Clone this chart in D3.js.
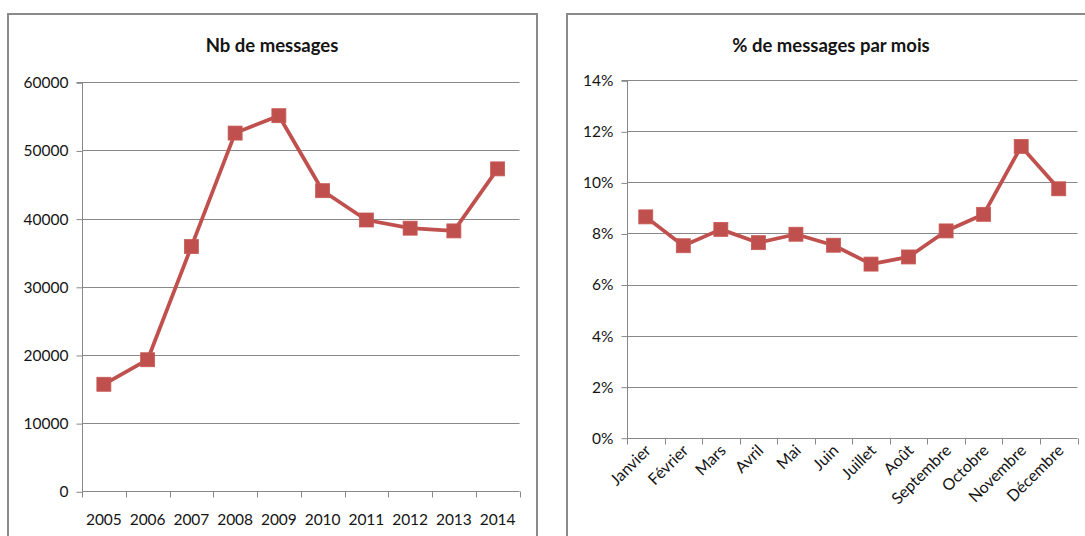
<!DOCTYPE html>
<html>
<head>
<meta charset="utf-8">
<script src="https://cdn.jsdelivr.net/npm/d3@7"></script>
<style>
  html, body { margin: 0; padding: 0; background: #fff; }
  svg { display: block; font-family: Lato, "Open Sans", sans-serif; }
</style>
</head>
<body>
<svg id="chart" width="1085" height="536"></svg>
<script>
// Yearly message counts
const years = ["2005", "2006", "2007", "2008", "2009", "2010", "2011", "2012", "2013", "2014"];
const messages = [15700, 19300, 35900, 52550, 55100, 44100, 39800, 38600, 38200, 47300];
const messageTicks = [0, 10000, 20000, 30000, 40000, 50000, 60000];

// Share of messages by month (percent)
const months = ["Janvier", "Février", "Mars", "Avril", "Mai", "Juin", "Juillet", "Août",
                "Septembre", "Octobre", "Novembre", "Décembre"];
const monthShare = [8.65, 7.52, 8.16, 7.64, 7.97, 7.54, 6.80, 7.08, 8.10, 8.75, 11.41, 9.75];
const shareTicks = [0, 2, 4, 6, 8, 10, 12, 14];

const RED = "#c0504d";
const GRID = "#888888";
const TEXT = "#141414";

const svg = d3.select("#chart");

function panel(opts) {
  const g = svg.append("g");

  // frame
  g.append("rect")
    .attr("x", opts.frame[0]).attr("y", opts.frame[1])
    .attr("width", opts.frame[2]).attr("height", opts.frame[3])
    .attr("fill", "#fff").attr("stroke", "#8a8a8a").attr("stroke-width", 2);

  // title
  g.append("text")
    .attr("x", opts.titleX).attr("y", opts.titleY)
    .attr("text-anchor", "middle")
    .attr("font-weight", "bold").attr("font-size", 18.5)
    .attr("fill", TEXT)
    .text(opts.title);

  const x = d3.scaleBand().domain(opts.categories).range([opts.left, opts.right]);
  const y = d3.scaleLinear().domain(opts.domain).range([opts.bottom, opts.top]);

  // horizontal gridlines
  g.append("g").selectAll("line").data(opts.ticks.filter(t => t !== opts.domain[0])).join("line")
    .attr("x1", opts.left).attr("x2", opts.right)
    .attr("y1", d => Math.round(y(d)) + 0.5).attr("y2", d => Math.round(y(d)) + 0.5)
    .attr("stroke", GRID).attr("stroke-width", 1);

  // y axis
  const yAxis = d3.axisLeft(y).tickValues(opts.ticks).tickSize(6).tickPadding(8)
    .tickFormat(opts.yFormat);
  const ya = g.append("g").attr("transform", `translate(${Math.round(opts.left) + 0.5},0.5)`).call(yAxis);
  ya.select(".domain").attr("stroke", GRID).attr("d", `M-6,${Math.round(opts.top)}H0V${Math.round(opts.bottom)}`);
  ya.selectAll(".tick line").attr("stroke", GRID);
  ya.selectAll(".tick text").attr("font-size", 15.5).attr("fill", TEXT)
    .attr("font-family", "Lato, sans-serif");

  // x axis: baseline plus ticks at category boundaries
  const xa = g.append("g").attr("transform", `translate(0,${Math.round(opts.bottom) + 0.5})`);
  xa.append("line").attr("x1", opts.left).attr("x2", opts.right)
    .attr("stroke", GRID);
  const bounds = opts.categories.map(c => x(c)).concat([opts.right]);
  xa.selectAll("line.tk").data(bounds).join("line").attr("class", "tk")
    .attr("x1", d => Math.round(d) + 0.5).attr("x2", d => Math.round(d) + 0.5)
    .attr("y1", 0).attr("y2", 6).attr("stroke", GRID);

  const labels = xa.selectAll("text").data(opts.categories).join("text")
    .attr("fill", TEXT)
    .text(d => d);
  if (opts.rotate) {
    labels.attr("text-anchor", "end").attr("font-size", 16)
      .attr("transform", d => `translate(${x(d) + x.bandwidth() / 2 + 6},${13}) rotate(-45)`);
  } else {
    labels.attr("text-anchor", "middle").attr("font-size", 15.5)
      .attr("x", d => x(d) + x.bandwidth() / 2).attr("y", 33);
  }

  // series line
  const line = d3.line()
    .x((d, i) => x(opts.categories[i]) + x.bandwidth() / 2)
    .y(d => y(d));
  g.append("path").datum(opts.values)
    .attr("d", line).attr("fill", "none")
    .attr("stroke", RED).attr("stroke-width", 3.75).attr("stroke-linejoin", "round");

  // square markers
  const s = 14;
  g.append("g").selectAll("rect").data(opts.values).join("rect")
    .attr("x", (d, i) => x(opts.categories[i]) + x.bandwidth() / 2 - s / 2)
    .attr("y", d => y(d) - s / 2)
    .attr("width", s).attr("height", s)
    .attr("fill", RED).attr("stroke", "#c85a56").attr("stroke-width", 0.8);
}

panel({
  frame: [8, 14, 529, 540],
  title: "Nb de messages", titleX: 272, titleY: 52,
  categories: years, values: messages,
  domain: [0, 60000], ticks: messageTicks,
  yFormat: d => String(d),
  left: 82, right: 519.5, top: 82.3, bottom: 491.3,
  rotate: false
});

panel({
  frame: [567, 14, 540, 540],
  title: "% de messages par mois", titleX: 831, titleY: 52,
  categories: months, values: monthShare,
  domain: [0, 14], ticks: shareTicks,
  yFormat: d => d + "%",
  left: 627, right: 1077.5, top: 80.3, bottom: 437.7,
  rotate: true
});
</script>
</body>
</html>
